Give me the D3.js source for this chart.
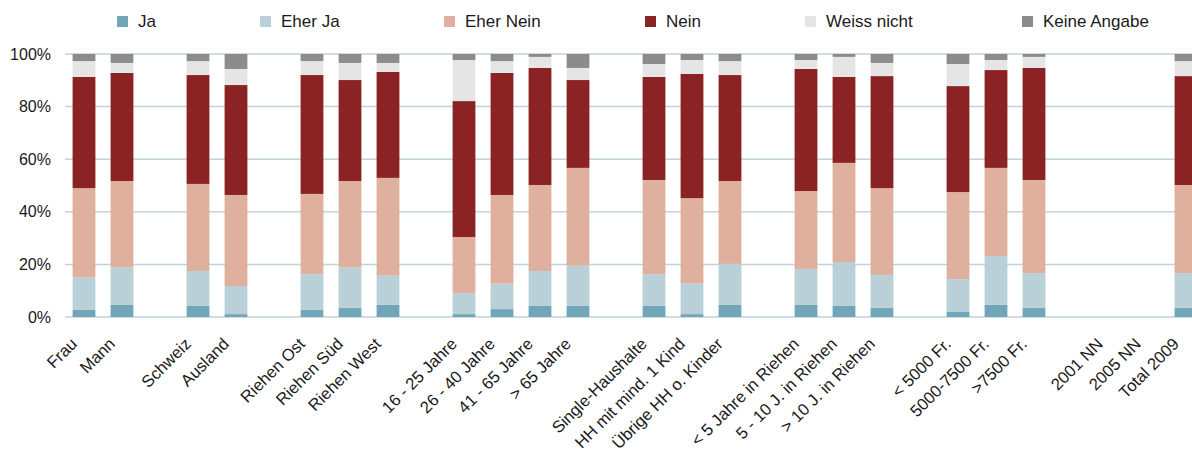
<!DOCTYPE html>
<html>
<head>
<meta charset="utf-8">
<script src="https://cdn.jsdelivr.net/npm/d3@7/dist/d3.min.js"></script>
<style>
  body { margin: 0; background: #fff; }
  svg { display: block; font-family: "Liberation Sans", Arial, sans-serif; }
</style>
</head>
<body>
<svg id="chart"></svg>
<script>
// categories, "" = empty slot between groups
const categories = ["Frau", "Mann", "", "Schweiz", "Ausland", "", "Riehen Ost", "Riehen Süd", "Riehen West", "",
  "16 - 25 Jahre", "26 - 40 Jahre", "41 - 65 Jahre", "> 65 Jahre", "",
  "Single-Haushalte", "HH mit mind. 1 Kind", "Übrige HH o. Kinder", "",
  "< 5 Jahre in Riehen", "5 - 10 J. in Riehen", "> 10 J. in Riehen", "",
  "< 5000 Fr.", "5000-7500 Fr.", ">7500 Fr.", "", "2001 NN", "2005 NN", "Total 2009"];

const seriesNames = ["Ja", "Eher Ja", "Eher Nein", "Nein", "Weiss nicht", "Keine Angabe"];

// values in percent, null = no bar
const ja         = [2.7, 4.6, null, 4.2, 1.1, null, 2.7, 3.4, 4.6, null, 1.1, 3.0, 4.2, 4.2, null, 4.2, 1.1, 4.6, null, 4.6, 4.2, 3.4, null, 1.9, 4.6, 3.4, null, null, null, 3.4];
const eherJa     = [12.3, 14.2, null, 13.3, 10.7, null, 13.6, 15.4, 11.1, null, 8.0, 9.7, 13.3, 15.3, null, 12.1, 11.6, 15.6, null, 13.7, 16.7, 12.6, null, 12.5, 18.6, 13.3, null, null, null, 13.3];
const eherNein   = [34.0, 32.9, null, 33.1, 34.6, null, 30.5, 32.9, 37.2, null, 21.3, 33.7, 32.7, 37.2, null, 35.8, 32.5, 31.5, null, 29.6, 37.7, 33.0, null, 33.1, 33.5, 35.4, null, null, null, 33.5];
const nein       = [42.3, 41.1, null, 41.4, 41.8, null, 45.2, 38.4, 40.3, null, 51.7, 46.4, 44.5, 33.4, null, 39.2, 47.2, 40.3, null, 46.4, 32.7, 42.6, null, 40.3, 37.2, 42.6, null, null, null, 41.4];
const weissNicht = [6.0, 3.8, null, 5.3, 6.1, null, 5.3, 6.5, 3.4, null, 15.6, 4.5, 4.2, 4.6, null, 4.9, 5.3, 5.3, null, 3.4, 7.6, 5.0, null, 8.4, 3.8, 4.2, null, null, null, 5.7];
const keineAng   = [2.7, 3.4, null, 2.7, 5.7, null, 2.7, 3.4, 3.4, null, 2.3, 2.7, 1.1, 5.3, null, 3.8, 2.3, 2.7, null, 2.3, 1.1, 3.4, null, 3.8, 2.3, 1.1, null, null, null, 2.7];

const yTicks = [0, 20, 40, 60, 80, 100];

const colors = ["#71a5b8", "#b9d0d8", "#dfb09d", "#8b2325", "#e5e5e5", "#8c8c8c"];
const legendX = [117, 260, 444, 645, 805, 1022];

const width = 1192, height = 455;
const margin = {top: 54, left: 65, bottom: 138};

const svg = d3.select("#chart").attr("width", width).attr("height", height);

// build rows for the stack
const cols = [ja, eherJa, eherNein, nein, weissNicht, keineAng];
const rows = categories.map((c, i) => {
  const r = {idx: i, empty: ja[i] == null};
  seriesNames.forEach((s, k) => r[s] = cols[k][i] == null ? 0 : cols[k][i]);
  return r;
});

const x = d3.scaleBand()
  .domain(d3.range(categories.length))
  .range([margin.left, margin.left + 38 * categories.length])
  .paddingInner(0.4)
  .paddingOuter(0.2);

const y = d3.scaleLinear().domain([0, 100]).range([height - margin.bottom, margin.top]);

// gridlines
svg.append("g")
  .selectAll("line")
  .data(yTicks)
  .enter().append("line")
  .attr("x1", margin.left)
  .attr("x2", width)
  .attr("y1", d => y(d))
  .attr("y2", d => y(d))
  .attr("stroke", "#bfd3da")
  .attr("stroke-width", 1.5);

// y tick labels
const yAxis = svg.append("g")
  .attr("transform", `translate(${margin.left},0)`)
  .call(d3.axisLeft(y).tickValues(yTicks).tickFormat(d => d + "%").tickSize(0).tickPadding(14));
yAxis.select(".domain").remove();
yAxis.selectAll("text")
  .attr("font-size", 16)
  .attr("font-family", "Liberation Sans, Arial, sans-serif")
  .attr("fill", "#1a1a1a");

// stacked bars
const stack = d3.stack().keys(seriesNames);
const layers = stack(rows.filter(r => !r.empty));

svg.append("g")
  .selectAll("g")
  .data(layers)
  .enter().append("g")
  .attr("fill", (d, i) => colors[i])
  .selectAll("rect")
  .data(d => d)
  .enter().append("rect")
  .attr("x", d => x(d.data.idx))
  .attr("width", x.bandwidth())
  .attr("y", d => y(d[1]))
  .attr("height", d => y(d[0]) - y(d[1]));

// category labels
svg.append("g")
  .selectAll("text")
  .data(categories.map((c, i) => ({c, i})).filter(d => d.c !== ""))
  .enter().append("text")
  .attr("transform", d => `translate(${x(d.i) + x.bandwidth() / 2 - 6},${345}) rotate(-45)`)
  .attr("text-anchor", "end")
  .attr("font-size", 16.6)
  .attr("fill", "#1a1a1a")
  .text(d => d.c);

// legend
const legend = svg.append("g")
  .selectAll("g")
  .data(seriesNames)
  .enter().append("g")
  .attr("transform", (d, i) => `translate(${legendX[i]},16)`);

legend.append("rect")
  .attr("width", 11)
  .attr("height", 11)
  .attr("fill", (d, i) => colors[i]);

legend.append("text")
  .attr("x", 21)
  .attr("y", 11)
  .attr("font-size", 17)
  .attr("fill", "#1a1a1a")
  .text(d => d);
</script>
</body>
</html>
